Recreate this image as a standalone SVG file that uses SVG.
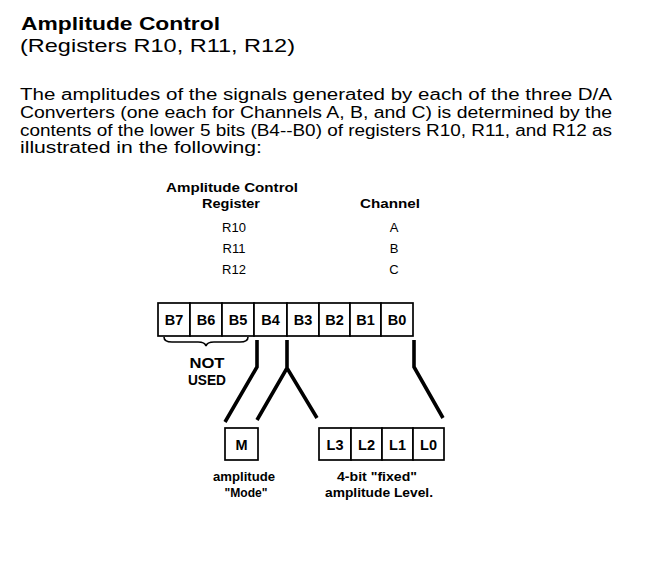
<svg xmlns="http://www.w3.org/2000/svg" width="653" height="561" viewBox="0 0 653 561">
<style>
.t{font-family:"Liberation Sans",Arial,Helvetica,sans-serif;fill:#000}
.h{font-size:19px;font-weight:bold}
.h2{font-size:19px}
.p{font-size:16px}
.b{font-size:13px;font-weight:bold;text-anchor:middle}
.r{font-size:13px;text-anchor:middle}
.cl{font-size:14.5px;font-weight:bold;text-anchor:middle}
.lb{font-size:13.5px;font-weight:bold;text-anchor:middle}
.cell{fill:#fff;stroke:#000;stroke-width:1.7}
.conn{fill:none;stroke:#000;stroke-width:3.6;stroke-linejoin:miter}
.brace{fill:none;stroke:#000;stroke-width:1.6}
</style>
<rect width="653" height="561" fill="#fff"/>
<g id="heading">
<text class="t h" x="21" y="30" textLength="199" lengthAdjust="spacingAndGlyphs">Amplitude Control</text>
<text class="t h2" x="20" y="52" textLength="275" lengthAdjust="spacingAndGlyphs">(Registers R10, R11, R12)</text>
</g>
<g id="paragraph">
<text class="t p" x="20" y="100" textLength="592" lengthAdjust="spacingAndGlyphs">The amplitudes of the signals generated by each of the three D/A</text>
<text class="t p" x="20" y="118" textLength="592" lengthAdjust="spacingAndGlyphs">Converters (one each for Channels  A, B, and C) is determined by the</text>
<text class="t p" x="20" y="135.5" textLength="592" lengthAdjust="spacingAndGlyphs">contents of the lower 5 bits (B4--B0) of registers R10, R11, and R12 as</text>
<text class="t p" x="20" y="153" textLength="242" lengthAdjust="spacingAndGlyphs">illustrated in the following:</text>
</g>
<g id="table">
<text class="t b" x="232" y="192" textLength="132" lengthAdjust="spacingAndGlyphs">Amplitude Control</text>
<text class="t b" x="231" y="208" textLength="58" lengthAdjust="spacingAndGlyphs">Register</text>
<text class="t b" x="390" y="208" textLength="60" lengthAdjust="spacingAndGlyphs">Channel</text>
<text class="t r" x="234" y="232">R10</text>
<text class="t r" x="234" y="253">R11</text>
<text class="t r" x="234" y="274">R12</text>
<text class="t r" x="394" y="232">A</text>
<text class="t r" x="394" y="253">B</text>
<text class="t r" x="394" y="274">C</text>
</g>
<g id="register">
<rect class="cell" x="158" y="303" width="32" height="33"/>
<rect class="cell" x="190" y="303" width="32" height="33"/>
<rect class="cell" x="222" y="303" width="32" height="33"/>
<rect class="cell" x="254" y="303" width="33" height="33"/>
<rect class="cell" x="287" y="303" width="32" height="33"/>
<rect class="cell" x="319" y="303" width="31" height="33"/>
<rect class="cell" x="350" y="303" width="31" height="33"/>
<rect class="cell" x="381" y="303" width="32" height="33"/>
<text class="t cl" x="174" y="325">B7</text>
<text class="t cl" x="206" y="325">B6</text>
<text class="t cl" x="238" y="325">B5</text>
<text class="t cl" x="270.5" y="325">B4</text>
<text class="t cl" x="303" y="325">B3</text>
<text class="t cl" x="334.5" y="325">B2</text>
<text class="t cl" x="365.5" y="325">B1</text>
<text class="t cl" x="397" y="325">B0</text>
</g>
<g id="not-used">
<path class="brace" d="M164,337 Q164,342 172,342 L198,342 Q205,342 206,346 Q207,342 214,342 L240,342 Q248,342 248,337"/>
<text class="t cl" x="207" y="368" textLength="35" lengthAdjust="spacingAndGlyphs">NOT</text>
<text class="t cl" x="207" y="385" textLength="38" lengthAdjust="spacingAndGlyphs">USED</text>
</g>
<g id="connectors">
<path class="conn" d="M257,340 L257,367 L225,422"/>
<path class="conn" d="M287,340 L287,368 M257,420 L287,368 L317,418"/>
<path class="conn" d="M414,340 L414,367 L443,418"/>
</g>
<g id="mode">
<rect class="cell" x="225" y="428" width="33" height="32"/>
<text class="t cl" x="241.5" y="450">M</text>
<text class="t lb" x="244" y="481" textLength="62" lengthAdjust="spacingAndGlyphs">amplitude</text>
<text class="t lb" x="246" y="497" textLength="43" lengthAdjust="spacingAndGlyphs">"Mode"</text>
</g>
<g id="level">
<rect class="cell" x="319" y="428" width="32" height="32"/>
<rect class="cell" x="351" y="428" width="31" height="32"/>
<rect class="cell" x="382" y="428" width="31" height="32"/>
<rect class="cell" x="413" y="428" width="31" height="32"/>
<text class="t cl" x="335" y="450">L3</text>
<text class="t cl" x="366.5" y="450">L2</text>
<text class="t cl" x="397.5" y="450">L1</text>
<text class="t cl" x="428.5" y="450">L0</text>
<text class="t lb" x="377" y="481" textLength="80" lengthAdjust="spacingAndGlyphs">4-bit "fixed"</text>
<text class="t lb" x="379" y="497" textLength="108" lengthAdjust="spacingAndGlyphs">amplitude Level.</text>
</g>
</svg>
